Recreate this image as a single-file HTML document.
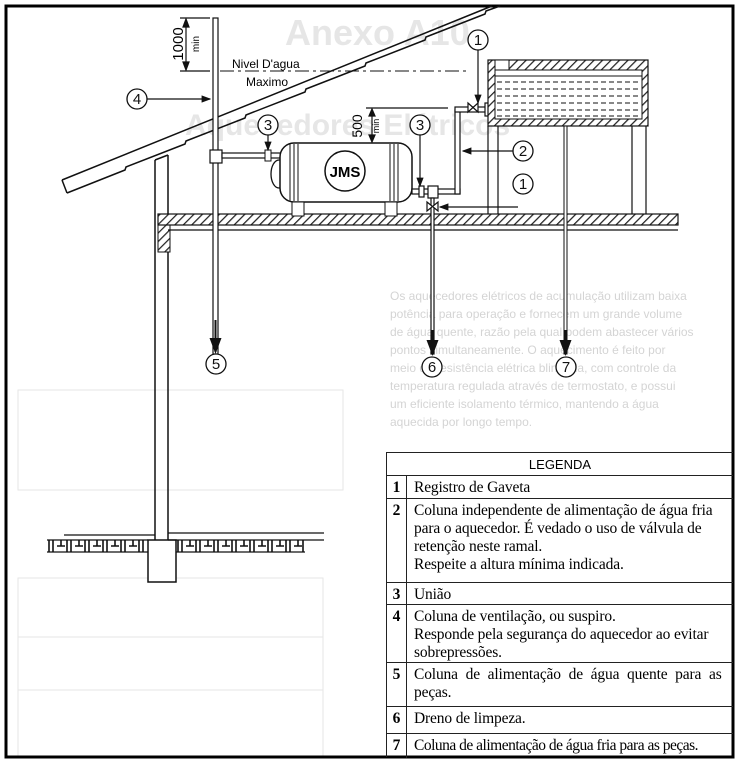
<!DOCTYPE html>
<html><head><meta charset="utf-8"><style>
body{margin:0;background:#fff;}
#w{position:relative;width:738px;height:764px;overflow:hidden;background:#fff;}
svg{position:absolute;left:0;top:0}
.lg{position:absolute;left:386px;top:452px;width:347px;height:305px;border-left:1.5px solid #222;border-top:1.5px solid #222;box-sizing:border-box;font-family:"Liberation Serif",serif;font-size:15.5px;line-height:18px;color:#000;}
.r{position:absolute;left:0;width:346px;border-top:1.5px solid #222;box-sizing:border-box}
.n{position:absolute;left:0;top:0;bottom:0;width:20px;border-right:1.5px solid #222;text-align:center;font-weight:bold;padding-top:3px;box-sizing:border-box}
.t{position:absolute;left:27px;top:3px;right:2px;white-space:nowrap;letter-spacing:-0.15px}
</style></head><body><div id="w">
<svg width="738" height="764" viewBox="0 0 738 764">
<defs>
<pattern id="h" width="6" height="6" patternUnits="userSpaceOnUse" patternTransform="rotate(45)"><rect width="6" height="6" fill="#fff"/><line x1="0" y1="0" x2="0" y2="6" stroke="#222" stroke-width="2.5"/></pattern>
<marker id="a" markerWidth="8" markerHeight="8" refX="7" refY="4" orient="auto"><path d="M0,1 L8,4 L0,7z" fill="#111"/></marker>
</defs>
<g fill="#e6e6e6" font-family="Liberation Sans,sans-serif">
<text x="285" y="45" font-size="36" font-weight="bold">Anexo A10</text>
<text x="185" y="135" font-size="30" font-weight="bold">Aquecedores Elétricos</text>
</g>
<g stroke="#e6e6e6" stroke-width="1" fill="none">
<rect x="18" y="390" width="325" height="100"/>
<rect x="18" y="578" width="305" height="180"/>
<line x1="18" y1="637" x2="323" y2="637"/><line x1="18" y1="690" x2="323" y2="690"/>
</g>
<g fill="#d4d4d4" font-family="Liberation Sans,sans-serif" font-size="12">
<text x="390" y="300">Os aquecedores elétricos de acumulação utilizam baixa</text>
<text x="390" y="318">potência para operação e fornecem um grande volume</text>
<text x="390" y="336">de água quente, razão pela qual podem abastecer vários</text>
<text x="390" y="354">pontos simultaneamente. O aquecimento é feito por</text>
<text x="390" y="372">meio de resistência elétrica blindada, com controle da</text>
<text x="390" y="390">temperatura regulada através de termostato, e possui</text>
<text x="390" y="408">um eficiente isolamento térmico, mantendo a água</text>
<text x="390" y="426">aquecida por longo tempo.</text>
</g>
<rect x="6" y="6" width="727" height="751" fill="none" stroke="#000" stroke-width="3"/>
<!-- roof -->
<g stroke="#111" stroke-width="1.5" fill="none">
<path d="M62,180 L487,8 L492,6"/>
<path d="M67,193 L125,170 L126,167 L185,144 L186,141 L245,118 L246,115 L305,92 L306,89 L365,66 L366,63 L425,40 L426,37 L485,14 L486,11 L500,6"/>
<line x1="62" y1="180" x2="67" y2="193"/>
</g>
<g stroke="#111" stroke-width="1.5" fill="none">
<line x1="155" y1="160" x2="155" y2="540"/><line x1="168" y1="155" x2="168" y2="540"/>
<line x1="155" y1="160" x2="168" y2="155"/>
<rect x="148" y="540" width="28" height="42" fill="#fff"/>
</g>
<rect x="158" y="222" width="12" height="30" fill="url(#h)" stroke="#111"/>
<rect x="158" y="214" width="520" height="11" fill="url(#h)" stroke="#111" stroke-width="1.2"/>
<line x1="168" y1="230" x2="678" y2="230" stroke="#111" stroke-width="1.2"/>
<g stroke="#111" stroke-width="1.3">
<line x1="64" y1="535" x2="155" y2="535"/><line x1="168" y1="533" x2="324" y2="533"/><line x1="168" y1="540" x2="324" y2="540"/>
<line x1="47" y1="540" x2="148" y2="540"/><line x1="47" y1="552" x2="148" y2="552"/><line x1="176" y1="552" x2="305" y2="552"/>
</g>
<g stroke="#111" stroke-width="1.6">
<path d="M49,540v12M53,540v12M57,546h8M61,540v6M67,540v12M71,540v12M75,546h8M79,540v6M85,540v12M89,540v12M93,546h8M97,540v6M103,540v12M107,540v12M111,546h8M115,540v6M121,540v12M125,540v12M129,546h8M133,540v6M139,540v12M143,540v12"/>
<path d="M178,540v12M182,540v12M186,546h8M190,540v6M196,540v12M200,540v12M204,546h8M208,540v6M214,540v12M218,540v12M222,546h8M226,540v6M232,540v12M236,540v12M240,546h8M244,540v6M250,540v12M254,540v12M258,546h8M262,540v6M268,540v12M272,540v12M276,546h8M280,540v6M286,540v12M290,540v12M294,546h8M298,540v6M303,540v12"/>
</g>
<rect x="213" y="18" width="5" height="336" fill="#fff" stroke="#111" stroke-width="1.2"/>
<line x1="215.5" y1="320" x2="215.5" y2="352" stroke="#111" stroke-width="2" marker-end="url(#a)"/>
<g stroke="#111" stroke-width="1.2">
<line x1="180" y1="18" x2="210" y2="18"/><line x1="180" y1="71" x2="210" y2="71"/>
<line x1="186" y1="24" x2="186" y2="65"/>
<path d="M186,19 l-3,8 h6z M186,70 l-3,-8 h6z" fill="#111"/>
</g>
<text transform="translate(183,44) rotate(-90)" text-anchor="middle" font-family="Liberation Sans,sans-serif" font-size="15">1000</text>
<text transform="translate(199,44) rotate(-90)" text-anchor="middle" font-family="Liberation Sans,sans-serif" font-size="10">min</text>
<line x1="220" y1="71" x2="470" y2="71" stroke="#111" stroke-width="1" stroke-dasharray="14,4,3,4"/>
<text x="232" y="68" font-family="Liberation Sans,sans-serif" font-size="12">Nivel D'agua</text>
<text x="246" y="86" font-family="Liberation Sans,sans-serif" font-size="12">Maximo</text>
<rect x="210" y="150" width="12" height="13" fill="#fff" stroke="#111" stroke-width="1.2"/>
<rect x="222" y="153" width="60" height="5" fill="#fff" stroke="#111" stroke-width="1.2"/>
<rect x="265" y="150" width="6" height="11" fill="#fff" stroke="#111"/>
<ellipse cx="279" cy="174" rx="8" ry="14" fill="#fff" stroke="#111" stroke-width="1.3"/>
<rect x="280" y="143" width="132" height="59" rx="14" fill="#fff" stroke="#111" stroke-width="1.5"/>
<g stroke="#111" stroke-width="1"><line x1="290" y1="144" x2="290" y2="201"/><line x1="294" y1="144" x2="294" y2="201"/><line x1="298" y1="144" x2="298" y2="201"/><line x1="390" y1="144" x2="390" y2="201"/><line x1="394" y1="144" x2="394" y2="201"/><line x1="398" y1="144" x2="398" y2="201"/></g>
<circle cx="345" cy="171" r="20" fill="#fff" stroke="#111" stroke-width="1.5"/>
<text x="345" y="177" text-anchor="middle" font-family="Liberation Sans,sans-serif" font-size="15" font-weight="bold">JMS</text>
<rect x="292" y="202" width="12" height="14" fill="#fff" stroke="#111"/>
<rect x="385" y="202" width="12" height="14" fill="#fff" stroke="#111"/>
<g fill="#fff" stroke="#111" stroke-width="1.2">
<rect x="412" y="189" width="48" height="5"/>
<rect x="419" y="186" width="5" height="11"/>
<rect x="428" y="186" width="10" height="12"/>
<rect x="455" y="110" width="5" height="84"/>
<rect x="455" y="107" width="32" height="5"/>
<rect x="485" y="103" width="5" height="13"/>
<rect x="431" y="198" width="3" height="156"/>
</g>
<path d="M427,202 l11,9 v-9 l-11,9z M468,103 l10,9 v-9 l-10,9z" fill="#fff" stroke="#111" stroke-width="1.2"/>
<line x1="432.5" y1="330" x2="432.5" y2="354" stroke="#111" stroke-width="2" marker-end="url(#a)"/>
<g stroke="#111" stroke-width="1.2"><line x1="366" y1="108" x2="448" y2="108"/><line x1="372" y1="114" x2="372" y2="137"/>
<path d="M372,109 l-3,7 h6z M372,142 l-3,-7 h6z" fill="#111"/></g>
<text transform="translate(362,126) rotate(-90)" text-anchor="middle" font-family="Liberation Sans,sans-serif" font-size="14">500</text>
<text transform="translate(379,126) rotate(-90)" text-anchor="middle" font-family="Liberation Sans,sans-serif" font-size="9">min</text>
<rect x="488" y="60" width="160" height="66" fill="url(#h)" stroke="#111" stroke-width="1.2"/>
<rect x="495" y="70" width="147" height="49" fill="#fff" stroke="#111"/>
<rect x="495" y="60" width="14" height="10" fill="#fff" stroke="#111"/>
<g stroke="#111" stroke-width="1" stroke-dasharray="5,3">
<line x1="497" y1="82" x2="640" y2="82"/><line x1="497" y1="89" x2="640" y2="89"/><line x1="497" y1="96" x2="640" y2="96"/><line x1="497" y1="103" x2="640" y2="103"/><line x1="497" y1="110" x2="640" y2="110"/><line x1="497" y1="116" x2="640" y2="116"/>
</g>
<line x1="495" y1="76" x2="642" y2="76" stroke="#111"/>
<g stroke="#111" stroke-width="1.2"><line x1="488" y1="126" x2="488" y2="214"/><line x1="498" y1="126" x2="498" y2="214"/><line x1="632" y1="126" x2="632" y2="214"/><line x1="646" y1="126" x2="646" y2="214"/></g>
<rect x="564" y="126" width="3" height="228" fill="#fff" stroke="#111"/>
<line x1="565.5" y1="330" x2="565.5" y2="354" stroke="#111" stroke-width="2" marker-end="url(#a)"/>
<g font-family="Liberation Sans,sans-serif" font-size="15" text-anchor="middle" fill="#111">
<g fill="#fff" stroke="#111" stroke-width="1.3">
<circle cx="137" cy="99" r="10"/><circle cx="268" cy="125" r="10"/><circle cx="420" cy="125" r="10"/>
<circle cx="478" cy="40" r="10"/><circle cx="523" cy="151" r="10"/><circle cx="523" cy="184" r="10"/>
<circle cx="216" cy="364" r="10"/><circle cx="432" cy="367" r="10"/><circle cx="566" cy="367" r="10"/>
</g>
<text x="137" y="104">4</text><text x="268" y="130">3</text><text x="420" y="130">3</text>
<text x="478" y="45">1</text><text x="523" y="156">2</text><text x="523" y="189">1</text>
<text x="216" y="369">5</text><text x="432" y="372">6</text><text x="566" y="372">7</text>
</g>
<g stroke="#111" stroke-width="1.2" fill="none">
<line x1="147" y1="99" x2="210" y2="99" marker-end="url(#a)"/>
<line x1="268" y1="135" x2="268" y2="150" marker-end="url(#a)"/>
<line x1="420" y1="135" x2="420" y2="186" marker-end="url(#a)"/>
<line x1="478" y1="50" x2="478" y2="103" marker-end="url(#a)"/>
<line x1="513" y1="151" x2="463" y2="151" marker-end="url(#a)"/>
<line x1="518" y1="207" x2="440" y2="207" marker-end="url(#a)"/>
</g>
</svg>
<div class="lg">
<div style="position:absolute;left:0;right:0;top:4px;text-align:center;font-family:'Liberation Sans',sans-serif;font-size:13px;line-height:16px">LEGENDA</div>
<div class="r" style="top:22px;height:23px"><div class="n">1</div><div class="t">Registro de Gaveta</div></div>
<div class="r" style="top:45px;height:84px"><div class="n">2</div><div class="t">Coluna independente de alimentação de água fria<br>para o aquecedor. É vedado o uso de válvula de<br>retenção neste ramal.<br>Respeite a altura mínima indicada.</div></div>
<div class="r" style="top:129px;height:22px"><div class="n">3</div><div class="t">União</div></div>
<div class="r" style="top:151px;height:58px"><div class="n">4</div><div class="t">Coluna de ventilação, ou suspiro.<br>Responde pela segurança do aquecedor ao evitar<br>sobrepressões.</div></div>
<div class="r" style="top:209px;height:44px"><div class="n">5</div><div class="t" style="word-spacing:4px">Coluna de alimentação de água quente para as<br><span style="word-spacing:0">peças.</span></div></div>
<div class="r" style="top:253px;height:27px"><div class="n">6</div><div class="t">Dreno de limpeza.</div></div>
<div class="r" style="top:280px;height:25px"><div class="n">7</div><div class="t" style="letter-spacing:-0.5px">Coluna de alimentação de água fria para as peças.</div></div>
</div>
</div></body></html>
